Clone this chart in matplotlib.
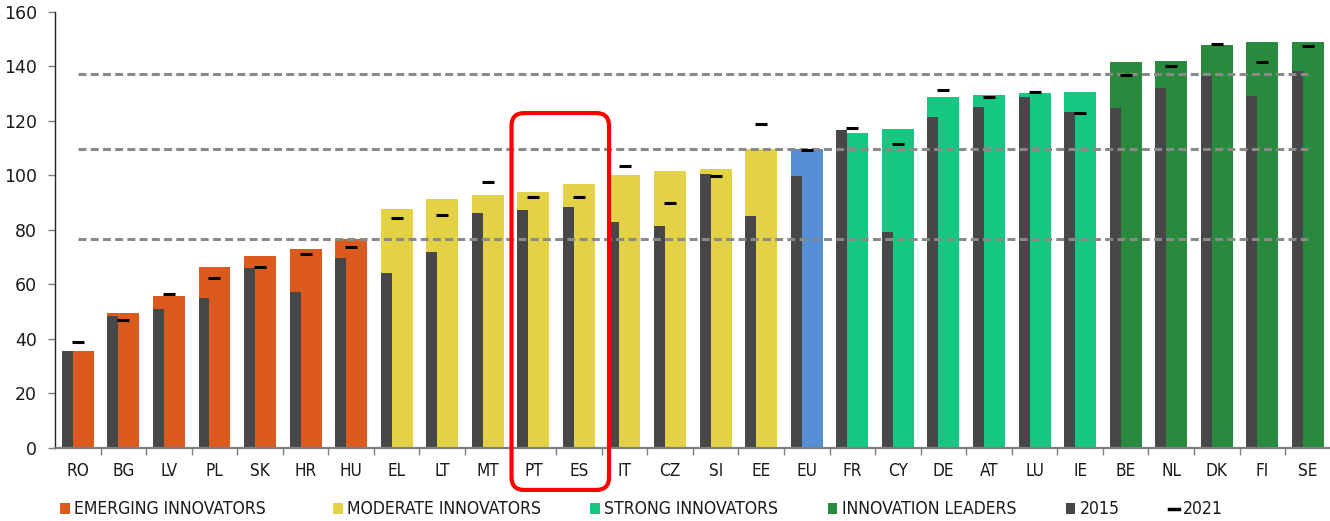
import matplotlib
matplotlib.use("Agg")
import matplotlib.pyplot as plt
from matplotlib.patches import Patch, FancyBboxPatch
from matplotlib.lines import Line2D
from matplotlib import font_manager as fm
import numpy as np

countries = ["RO", "BG", "LV", "PL", "SK", "HR", "HU", "EL", "LT", "MT", "PT", "ES",
             "IT", "CZ", "SI", "EE", "EU", "FR", "CY", "DE", "AT", "LU", "IE",
             "BE", "NL", "DK", "FI", "SE"]
groups = ["E"] * 7 + ["M"] * 9 + ["EU"] + ["S"] * 6 + ["L"] * 5
score_2022 = [35.5, 49.5, 55.6, 66.3, 70.3, 72.8, 76.5, 87.7, 91.4, 92.7, 93.7, 96.9,
              100.1, 101.4, 102.3, 109.5, 109.5, 115.5, 116.8, 128.7, 129.5, 130.0, 130.5,
              141.5, 141.9, 147.9, 148.7, 148.7]
score_2015 = [35.5, 48.3, 50.9, 55.0, 66.1, 57.2, 69.6, 64.0, 71.7, 86.0, 87.3, 88.2,
              82.7, 81.4, 100.6, 85.0, 99.7, 116.5, 79.3, 121.4, 125.0, 128.7, 123.2,
              124.7, 131.9, 136.4, 129.1, 138.2]
score_2021 = [38.7, 46.9, 56.4, 62.3, 66.4, 71.0, 73.7, 84.2, 85.5, 97.4, 91.9, 91.9,
              103.4, 89.7, 99.7, 118.8, 109.2, 117.2, 111.4, 131.2, 128.7, 130.6, 122.8,
              136.9, 140.1, 148.0, 141.5, 147.3]
thresholds = [76.7, 109.5, 137.2]
legend_labels = ["EMERGING INNOVATORS", "MODERATE INNOVATORS", "STRONG INNOVATORS",
                 "INNOVATION LEADERS", "2015", "2021"]

group_colors = {"E": "#DC5A1E", "M": "#E3D246", "EU": "#558ED5", "S": "#15C781", "L": "#288A3D"}
dark = "#464749"

# choose a condensed font if one is installed
fonts = fm.fontManager.ttflist
names = {f.name for f in fonts}
if "Liberation Sans Narrow" in names:
    tick_font = fm.FontProperties(family="Liberation Sans Narrow", size=13.8)
    leg_font = fm.FontProperties(family="Liberation Sans Narrow", size=14.3)
elif any(f.name == "DejaVu Sans" and str(f.stretch) in ("condensed", "semi-condensed", "75", "87")
         for f in fonts):
    tick_font = fm.FontProperties(family="DejaVu Sans", stretch="condensed", size=12.3)
    leg_font = fm.FontProperties(family="DejaVu Sans", stretch="condensed", size=12.6)
else:
    tick_font = fm.FontProperties(family="Liberation Sans", size=11.8)
    leg_font = fm.FontProperties(family="Liberation Sans", size=12.2)

fig = plt.figure(figsize=(13.3, 5.21), dpi=100)
ax = fig.add_axes([55 / 1330, 73.3 / 521, 1275.7 / 1330, 436 / 521])

x = np.arange(len(countries))
cols = [group_colors[g] for g in groups]
ax.bar(x, score_2022, width=0.70, color=cols, zorder=2)
ax.bar(x - 0.35, score_2015, width=0.24, align="edge", color=dark, zorder=3)
for t in thresholds:
    ax.plot([x[0], x[-1]], [t, t], color="#8A8A8A", lw=2.2, dashes=(2.6, 1.4),
            zorder=4, dash_capstyle="butt")
ax.plot(x, score_2021, linestyle="none", marker="_", markersize=8.8,
        markeredgewidth=2.2, color="black", zorder=5)

ax.set_xlim(-0.5, len(countries) - 0.5)
ax.set_ylim(0, 160)
ax.set_yticks(np.arange(0, 161, 20))
ax.set_xticks(x)
ax.set_xticklabels(countries, fontproperties=tick_font, color="#1a1a1a")
ax.set_xticks(np.arange(0.5, len(countries) - 0.5, 1), minor=True)
ax.tick_params(axis="x", which="major", length=0, pad=10.5)
ax.tick_params(axis="x", which="minor", length=5, width=1, color="#7f7f7f", direction="out")
ax.tick_params(axis="y", length=5, width=1, color="#7f7f7f", pad=8, labelsize=12.5,
               labelcolor="#1a1a1a")
for lab in ax.get_yticklabels():
    lab.set_fontfamily("DejaVu Sans")

for s in ["top", "right"]:
    ax.spines[s].set_visible(False)
ax.spines["left"].set_color("#222222")
ax.spines["left"].set_linewidth(1.0)
ax.spines["bottom"].set_color("#7f7f7f")
ax.spines["bottom"].set_linewidth(1.6)
ax.spines["bottom"].set_zorder(6)

# highlight box around PT and ES
box = FancyBboxPatch((9.52, -15.5), 2.14, 138.3,
                     boxstyle="round,pad=0,rounding_size=0.28",
                     mutation_aspect=45.56 / 2.725,
                     fill=False, edgecolor="#FF0000", linewidth=3, zorder=7, clip_on=False)
ax.add_patch(box)

handles = [Patch(facecolor=group_colors["E"]), Patch(facecolor=group_colors["M"]),
           Patch(facecolor=group_colors["S"]), Patch(facecolor=group_colors["L"]),
           Patch(facecolor=dark), Line2D([], [], color="black", lw=2.5)]
leg_kw = dict(frameon=False, prop=leg_font, handlelength=0.55, handleheight=0.6,
              handletextpad=0.25, borderpad=0, borderaxespad=0, labelcolor="#1a1a1a",
              loc="center left")
fig.legend(handles[:1], legend_labels[:1], ncol=1,
           bbox_to_anchor=(60 / 1330, 11.5 / 521), **leg_kw)
fig.legend(handles[1:], legend_labels[1:], ncol=5, columnspacing=2.82,
           bbox_to_anchor=(333 / 1330, 11.5 / 521), **leg_kw)

fig.savefig("out.png", dpi=100)
